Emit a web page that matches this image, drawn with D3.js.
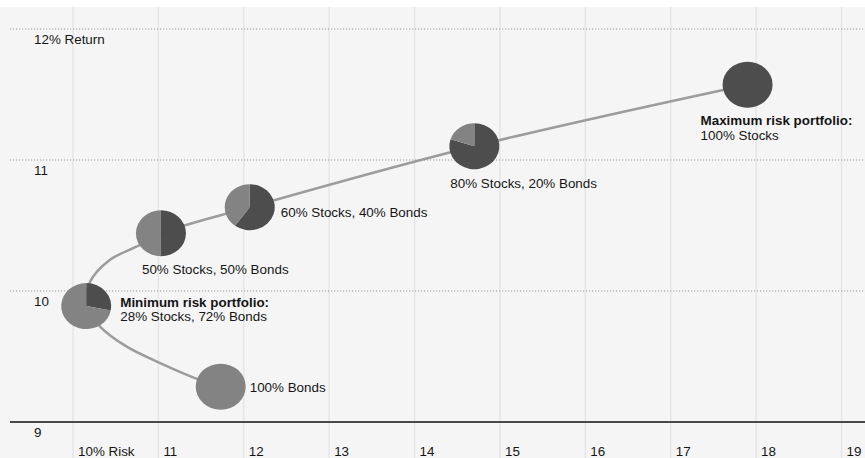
<!DOCTYPE html>
<html>
<head>
<meta charset="utf-8">
<script src="https://cdn.jsdelivr.net/npm/d3@7"></script>
<style>
  html, body { margin: 0; padding: 0; background: #ffffff; }
  svg { display: block; }
  text { font-family: "Liberation Sans", Arial, sans-serif; font-size: 13.4px; fill: #151515; }
</style>
</head>
<body>
<svg id="chart" width="865" height="458"></svg>
<script>
// ---- data ----
const riskTicks = [10, 11, 12, 13, 14, 15, 16, 17, 18, 19];
const riskTickLabels = ["10% Risk", "11", "12", "13", "14", "15", "16", "17", "18", "19"];
const returnTicks = [9, 10, 11, 12];
const returnTickLabels = ["9", "10", "11", "12% Return"];

// portfolios (pies)
const portfolioRisk   = [11.73, 10.155, 11.03, 12.07, 14.70, 17.90];
const portfolioReturn = [9.27, 9.885, 10.44, 10.64, 11.105, 11.575];
const stockShare      = [0, 28, 50, 60, 80, 100];
const bondShare       = [100, 72, 50, 40, 20, 0];
const labelBold       = ["", "Minimum risk portfolio:", "", "", "", "Maximum risk portfolio:"];
const labelText       = ["100% Bonds", "28% Stocks, 72% Bonds", "50% Stocks, 50% Bonds",
                         "60% Stocks, 40% Bonds", "80% Stocks, 20% Bonds", "100% Stocks"];

// efficient frontier line
const frontierRisk   = [11.73, 11.49, 11.02, 10.63, 10.32, 10.155, 10.20, 10.43, 10.78, 11.03, 12.07, 14.70, 17.90];
const frontierReturn = [9.27, 9.32, 9.45, 9.575, 9.727, 9.885, 10.07, 10.237, 10.35, 10.44, 10.64, 11.105, 11.575];

// ---- layout ----
const W = 865, H = 458;
const svg = d3.select("#chart");
const x = d3.scaleLinear().domain([10, 19]).range([73, 841.5]);
const y = d3.scaleLinear().domain([9, 12]).range([422, 29]);

// label offsets relative to pie centre (px): [dx, dy of first line centre]
const labelOffset = [[29, 1], [34, -4], [-19, 36], [31, 5], [-24, 37], [-47, 36]];

// background panel
svg.append("rect").attr("x", 0).attr("y", 7).attr("width", W).attr("height", H - 7).attr("fill", "#f5f5f5");

// vertical gridlines
svg.append("g").selectAll("line").data(riskTicks).join("line")
  .attr("x1", d => x(d)).attr("x2", d => x(d))
  .attr("y1", 7).attr("y2", H)
  .attr("stroke", "#e6e6e6").attr("stroke-width", 1.5);

// horizontal gridlines
svg.append("g").selectAll("line").data(returnTicks).join("line")
  .attr("x1", 10).attr("x2", W)
  .attr("y1", d => y(d)).attr("y2", d => y(d))
  .attr("stroke", d => d === 9 ? "#111" : "#9a9a9a")
  .attr("stroke-width", d => d === 9 ? 1.5 : 1)
  .attr("stroke-dasharray", d => d === 9 ? null : "1.2,1.8");

// y labels
svg.append("g").selectAll("text").data(returnTicks).join("text")
  .attr("x", 34).attr("y", d => y(d) + 15)
  .text((d, i) => returnTickLabels[i]);

// x labels
svg.append("g").selectAll("text").data(riskTicks).join("text")
  .attr("x", d => x(d) + 5).attr("y", 456)
  .text((d, i) => riskTickLabels[i]);

// frontier curve
const frontier = frontierRisk.map((r, i) => [x(r), y(frontierReturn[i])]);
svg.append("path")
  .attr("d", d3.line().curve(d3.curveCatmullRom.alpha(0.5))(frontier))
  .attr("fill", "none").attr("stroke", "#9c9c9c").attr("stroke-width", 2.5);

// pies
const rx = 25, ry = 23;
const pie = d3.pie().sort(null);
const arc = d3.arc().innerRadius(0).outerRadius(ry);
const colors = ["#4d4d4d", "#838383"];
portfolioRisk.forEach((r, i) => {
  const g = svg.append("g")
    .attr("transform", `translate(${x(r)},${y(portfolioReturn[i])}) scale(${rx / ry},1)`);
  g.selectAll("path").data(pie([stockShare[i], bondShare[i]])).join("path")
    .attr("d", arc).attr("fill", (d, j) => colors[j]);
});

// labels
portfolioRisk.forEach((r, i) => {
  const cx = x(r) + labelOffset[i][0];
  let cy = y(portfolioReturn[i]) + labelOffset[i][1];
  if (labelBold[i]) {
    svg.append("text").attr("x", cx).attr("y", cy).attr("dy", "0.35em")
      .style("font-weight", "bold").text(labelBold[i]);
    cy += 14.5;
  }
  svg.append("text").attr("x", cx).attr("y", cy).attr("dy", "0.35em").text(labelText[i]);
});
</script>
</body>
</html>
